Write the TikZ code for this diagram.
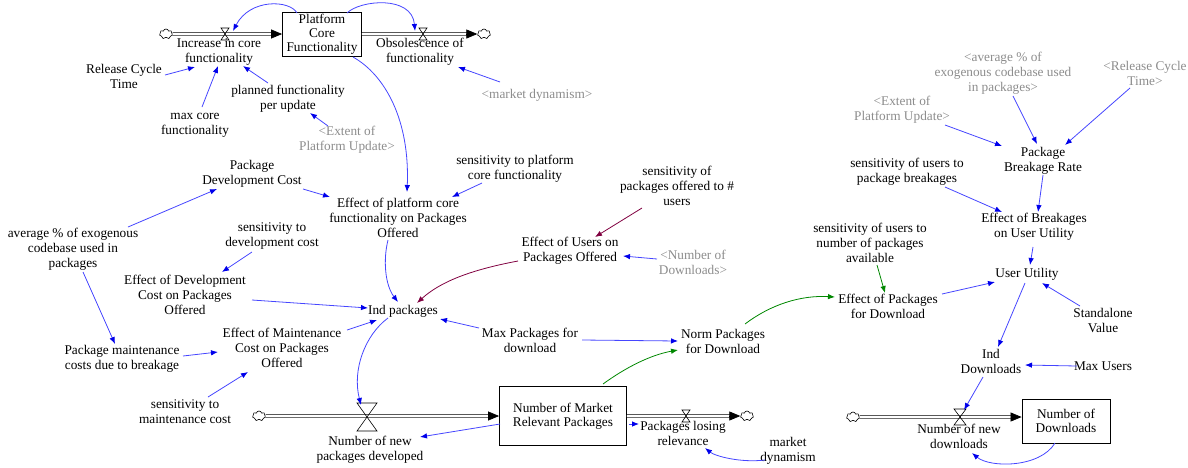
\documentclass[tikz,border=0pt]{standalone}
\usepackage{fontspec}
\setmainfont{Liberation Serif}
\usetikzlibrary{arrows.meta,calc,shapes.symbols}
\definecolor{lk}{RGB}{70,70,255}
\definecolor{lkh}{RGB}{0,0,235}
\definecolor{mr}{RGB}{128,0,64}
\definecolor{gr}{RGB}{0,135,0}
\definecolor{gy}{RGB}{140,140,140}
\tikzset{
  var/.style={align=center, font=\fontsize{13.3}{15}\selectfont, inner sep=0pt},
  shadowvar/.style={var, text=gy},
  stock/.style={draw, line width=0.8pt, align=center, font=\fontsize{13.3}{14}\selectfont, inner sep=0pt},
  link/.style={draw=lk, line width=0.8pt, -{Latex[length=7pt,width=5.5pt,color=lkh]}},
  mlink/.style={draw=mr, line width=0.8pt, -{Latex[length=7pt,width=5.5pt]}},
  glink/.style={draw=gr, line width=0.8pt, -{Latex[length=7pt,width=5.5pt]}},
  pipe/.style={draw, double, double distance=2pt, line width=0.7pt},
  pipetip/.style={draw, line width=0.7pt, -{Triangle[length=11pt,width=9pt]}},
  src/.style={cloud, draw, cloud puffs=7, aspect=1.3, minimum width=13pt, minimum height=10pt, inner sep=0pt, line width=0.6pt, fill=white},
  pics/valve/.style 2 args={code={\draw[line width=0.6pt] (-#1,-#2) -- (#1,-#2) -- (-#1,#2) -- (#1,#2) -- cycle;}}
}
\begin{document}
\begin{tikzpicture}[x=1pt,y=-1pt]
\useasboundingbox (0,0) rectangle (1188,467);

% ---------- stocks ----------
\node[stock, minimum width=79, minimum height=44] (pcf) at (322,34) {Platform\\Core\\Functionality};
\node[stock, minimum width=127, minimum height=59] (nmrp) at (563,416) {Number of Market\\Relevant Packages};
\node[stock, minimum width=88, minimum height=44] (ndb) at (1066,421) {Number of\\Downloads};

% ---------- clouds ----------
\node[src] (c1) at (166,34) {};
\node[src] (c2) at (484,34) {};
\node[src] (c3) at (259,416) {};
\node[src] (c4) at (747,416) {};
\node[src] (c5) at (853,417) {};

% ---------- valves ----------
\coordinate (vinc) at (225,34);
\coordinate (vobs) at (423,34);
\coordinate (vnp) at (367,417);
\coordinate (vplr) at (686,416);
\coordinate (vnd) at (960,417);

% ---------- pipes ----------
\draw[pipe] (c1.east) -- ([xshift=-10pt]pcf.west);
\draw[pipetip] ([xshift=-11pt]pcf.west) -- (pcf.west);
\draw[pipe] (pcf.east) -- ([xshift=-10pt]c2.west);
\draw[pipetip] ([xshift=-11pt]c2.west) -- (c2.west);
\draw[pipe] (c3.east) -- ([xshift=-10pt]nmrp.west);
\draw[pipetip] ([xshift=-11pt]nmrp.west) -- (nmrp.west);
\draw[pipe] (nmrp.east) -- ([xshift=-10pt]c4.west);
\draw[pipetip] ([xshift=-11pt]c4.west) -- (c4.west);
\coordinate (ndin) at ($(ndb.west)+(0,-4)$);
\draw[pipe] (c5.east) -- ([xshift=-10pt]ndin);
\draw[pipetip] ([xshift=-11pt]ndin) -- (ndin);

\pic at (vinc) {valve={4}{6}};
\pic at (vobs) {valve={4}{6}};
\pic at (vnp) {valve={10}{14}};
\pic at (vplr) {valve={4}{6}};
\pic at (vnd) {valve={6}{8}};

% ---------- variables ----------
\node[var] (inc) at (219,52) {Increase in core\\functionality};
\node[var] (obs) at (420,52) {Obsolescence of\\functionality};
\node[var] (rct) at (124,76) {Release Cycle\\Time};
\node[var] (maxcore) at (195,125) {max core\\functionality};
\node[var] (planned) at (288,99) {planned functionality\\per update};
\node[shadowvar] (ext1) at (347,140) {\textless Extent of\\Platform Update\textgreater};
\node[shadowvar] (mdyn1) at (537,95) {\textless market dynamism\textgreater};
\node[var] (pdc) at (252,174) {Package\\Development Cost};
\node[var] (epcf) at (398,218) {Effect of platform core\\functionality on Packages\\Offered};
\node[var] (spcf) at (515,169) {sensitivity to platform\\core functionality};
\node[var] (spou) at (677,186) {sensitivity of\\packages offered to \#\\users};
\node[var] (eup) at (570,251) {Effect of Users on\\Packages Offered};
\node[shadowvar] (nod) at (693,262) {\textless Number of\\Downloads\textgreater};
\node[var] (avg) at (73,249) {average \% of exogenous\\codebase used in\\packages};
\node[var] (sdc) at (272,236) {sensitivity to\\development cost};
\node[var] (edc) at (185,295) {Effect of Development\\Cost on Packages\\Offered};
\node[var] (ind) at (403,311) {Ind packages};
\node[var] (emc) at (282,348) {Effect of Maintenance\\Cost on Packages\\Offered};
\node[var] (pmc) at (122,359) {Package maintenance\\costs due to breakage};
\node[var] (smc) at (185,412) {sensitivity to\\maintenance cost};
\node[var] (maxp) at (530,340) {Max Packages for\\download};
\node[var] (norm) at (723,341) {Norm Packages\\for Download};
\node[var] (epd) at (888,306) {Effect of Packages\\for Download};
\node[var] (sun) at (870,243) {sensitivity of users to\\number of packages\\available};
\node[var] (uu) at (1027,274) {User Utility};
\node[var] (sv) at (1103,320) {Standalone\\Value};
\node[var] (indd) at (991,361) {Ind\\Downloads};
\node[var] (mu) at (1103,366) {Max Users};
\node[var] (ndl) at (959,436) {Number of new\\downloads};
\node[var] (pbr) at (1043,161) {Package\\Breakage Rate};
\node[shadowvar] (ext2) at (902,110) {\textless Extent of\\Platform Update\textgreater};
\node[shadowvar] (avg2) at (1003,73) {\textless average \% of\\exogenous codebase used\\in packages\textgreater};
\node[shadowvar] (rct2) at (1145,73) {\textless Release Cycle\\Time\textgreater};
\node[var] (supb) at (907,172) {sensitivity of users to\\package breakages};
\node[var] (ebu) at (1034,227) {Effect of Breakages\\on User Utility};
\node[var] (npl) at (370,450) {Number of new\\packages developed};
\node[var] (plr) at (683,433) {Packages losing\\relevance};
\node[var] (mdyn2) at (788,451) {market\\dynamism};

% ---------- connectors ----------
\draw[link] ($(pcf)+(-25,-21)$) .. controls (290,0) and (250,-2) .. ($(vinc)+(8,-3)$);
\draw[link] ($(pcf)+(25,-21)$) .. controls (360,0) and (412,-5) .. ($(vobs)+(-8,-3)$);
\draw[link] ($(rct)+(41,-1)$) -- ($(inc)+(-24,15)$);
\draw[link] ($(maxcore)+(7,-18)$) -- ($(inc)+(-1,14)$);
\draw[link] ($(planned)+(-20,-16)$) -- ($(inc)+(24,14)$);
\draw[link] ($(ext1)+(-19,-14)$) -- ($(planned)+(22,14)$);
\draw[link] ($(mdyn1)+(-37,-13)$) -- ($(obs)+(38,15)$);
\draw[link] ($(pcf)+(31,23)$) .. controls (385,75) and (410,120) .. ($(epcf)+(9,-26)$);
\draw[link] ($(avg)+(55,-22)$) -- ($(pdc)+(-35,15)$);
\draw[link] ($(pdc)+(51,15)$) -- ($(epcf)+(-68,-21)$);
\draw[link] ($(spcf)+(-33,14)$) -- ($(epcf)+(54,-21)$);
\draw[mlink] ($(spou)+(-35,22)$) -- ($(eup)+(25,-14)$);
\draw[link] ($(nod)+(-36,-3)$) -- ($(eup)+(53,5)$);
\draw[mlink] ($(eup)+(-52,10)$) .. controls (470,270) and (440,282) .. ($(ind)+(14,-8)$);
\draw[link] ($(avg)+(10,23)$) -- ($(pmc)+(-7,-15)$);
\draw[link] ($(sdc)+(-20,16)$) -- ($(edc)+(37,-23)$);
\draw[link] ($(edc)+(67,5)$) -- ($(ind)+(-35,-3)$);
\draw[link] ($(epcf)+(-10,22)$) .. controls (383,260) and (385,285) .. ($(ind)+(-5,-9)$);
\draw[link] ($(emc)+(65,-18)$) -- ($(ind)+(-26,9)$);
\draw[link] ($(pmc)+(61,-3)$) -- ($(emc)+(-64,4)$);
\draw[link] ($(smc)+(23,-15)$) -- ($(emc)+(-34,24)$);
\draw[link] ($(maxp)+(-51,-12)$) -- ($(ind)+(37,8)$);
\draw[link] ($(maxp)+(52,0)$) -- ($(norm)+(-45,0)$);
\draw[glink] ($(nmrp)+(40,-32)$) .. controls (625,368) and (650,355) .. ($(norm)+(-45,9)$);
\draw[glink] ($(norm)+(22,-17)$) .. controls (770,305) and (800,295) .. ($(epd)+(-53,-9)$);
\draw[glink] ($(sun)+(7,22)$) -- ($(epd)+(-3,-13)$);
\draw[link] ($(epd)+(54,-12)$) -- ($(uu)+(-32,8)$);
\draw[link] ($(ebu)+(-1,20)$) -- ($(uu)+(3,-9)$);
\draw[link] ($(sv)+(-23,-14)$) -- ($(uu)+(15,9)$);
\draw[link] ($(uu)+(-2,9)$) -- ($(indd)+(7,-14)$);
\draw[link] ($(mu)+(-26,0)$) -- ($(indd)+(34,4)$);
\draw[link] ($(indd)+(-8,16)$) -- ($(vnd)+(4,-7)$);
\draw[link] ($(ndb)+(-11,22)$) .. controls (1040,468) and (990,468) .. ($(ndl)+(13,17)$);
\draw[link] ($(ext2)+(43,15)$) -- ($(pbr)+(-41,-15)$);
\draw[link] ($(avg2)+(10,23)$) -- ($(pbr)+(-6,-17)$);
\draw[link] ($(rct2)+(-15,15)$) -- ($(pbr)+(22,-16)$);
\draw[link] ($(supb)+(38,15)$) -- ($(ebu)+(-32,-15)$);
\draw[link] ($(pbr)+(0,14)$) -- ($(ebu)+(4,-15)$);
\draw[link] ($(ind)+(-15,7)$) .. controls (365,335) and (352,370) .. ($(vnp)+(-6,-12)$);
\draw[link] ($(nmrp)+(-63,8)$) -- ($(npl)+(50,-13)$);
\draw[link] ($(nmrp)+(66,8)$) -- ($(plr)+(-44,-9)$);
\draw[link] ($(mdyn2)+(-23,9)$) .. controls (740,463) and (715,456) .. ($(plr)+(22,15)$);
\end{tikzpicture}
\end{document}
